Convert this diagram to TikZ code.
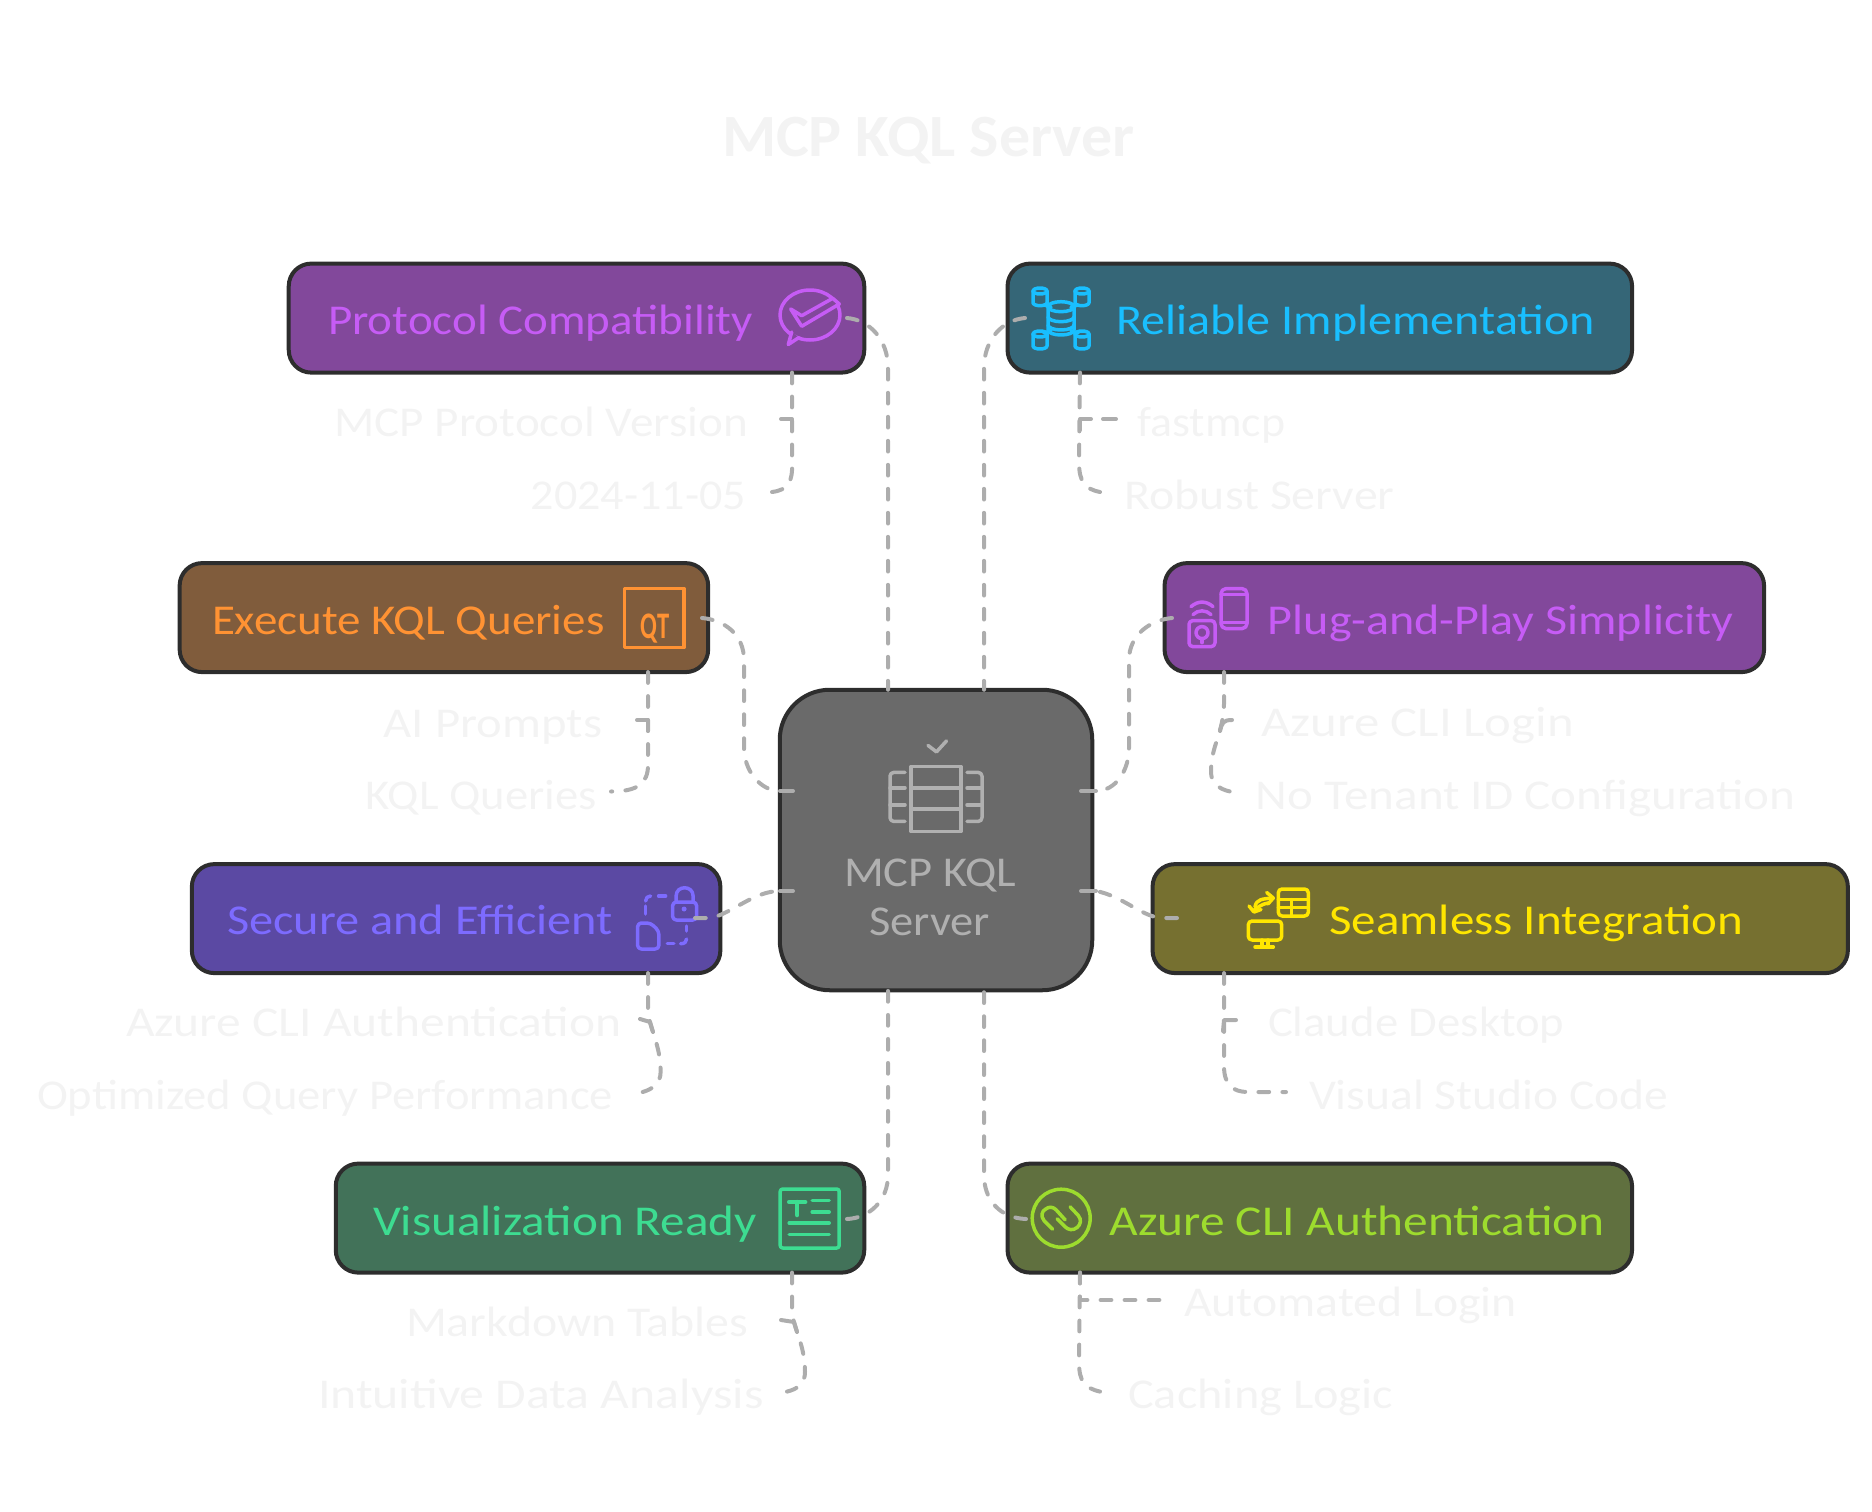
\documentclass[tikz,border=0pt]{standalone}
\usepackage{fontspec}
\setmainfont{Carlito}
\definecolor{faint}{HTML}{F3F3F3}
\definecolor{edge}{HTML}{2D2D2D}
\definecolor{wire}{HTML}{ADADAD}
\definecolor{hubgray}{HTML}{6A6A6A}
\definecolor{hubtext}{HTML}{B0B0B0}
\definecolor{purpfill}{HTML}{82489B}
\definecolor{purptext}{HTML}{C65CF5}
\definecolor{tealfill}{HTML}{356677}
\definecolor{tealtext}{HTML}{19BFFF}
\definecolor{brownfill}{HTML}{805C3C}
\definecolor{browntext}{HTML}{FF9233}
\definecolor{violfill}{HTML}{5B49A3}
\definecolor{violtext}{HTML}{7D6BFF}
\definecolor{olivefill}{HTML}{767030}
\definecolor{olivetext}{HTML}{FFE600}
\definecolor{greenfill}{HTML}{427259}
\definecolor{greentext}{HTML}{3DDC91}
\definecolor{limefill}{HTML}{60703F}
\definecolor{limetext}{HTML}{9DDC2E}
\newlength\fwl
\newcommand\fw[2]{\setlength\fwl{#1pt}\setlength\fwl{0.4\fwl}\resizebox{\fwl}{\height}{#2}}
\newcommand\cyl[5]{% cx top bot rx ry
  \draw (#1,#2) ellipse [x radius=#4,y radius=#5];
  \draw (#1-#4,#2) -- (#1-#4,#3) arc [start angle=180,end angle=0,x radius=#4,y radius=#5] -- (#1+#4,#2);
}
\tikzset{
  boxn/.style={draw=edge,line width=1.6pt,rounded corners=9pt,inner sep=0pt,outer sep=0pt,minimum height=43.6pt},
  lab/.style={anchor=base west,inner sep=0pt,outer sep=0pt,font=\fontsize{17}{20}\selectfont},
  sub/.style={lab,text=faint},
  wirebase/.style={draw=wire,line width=1.6pt,line cap=round,line join=round},
  conn/.style={wirebase,dash pattern=on 4.3pt off 5.3pt},
  stubline/.style={wirebase},
  ico/.style={line width=1.4pt,line cap=round,line join=round},
}
\begin{document}
\begin{tikzpicture}[x=0.4pt,y=-0.4pt]
\useasboundingbox (0,0) rectangle (1872,1512);

% title
\node[lab,text=faint,font=\fontsize{24}{28}\selectfont\bfseries] (title) at (722,157) {\fw{413}{MCP KQL Server}};

% boxes
\node[boxn,fill=purpfill,minimum width=230.2pt] (protocol) at (576.5,318.1) {};
\node[boxn,fill=tealfill,minimum width=249.8pt] (reliable) at (1319.8,318.1) {};
\node[boxn,fill=brownfill,minimum width=211.4pt] (execute) at (443.9,617.6) {};
\node[boxn,fill=purpfill,minimum width=239.8pt] (plug) at (1464.3,617.6) {};
\node[boxn,fill=violfill,minimum width=211.4pt] (secure) at (456.1,918.6) {};
\node[boxn,fill=olivefill,minimum width=278.1pt] (seamless) at (1500.2,918.6) {};
\node[boxn,fill=greenfill,minimum width=211.4pt] (viz) at (600,1218.1) {};
\node[boxn,fill=limefill,minimum width=249.8pt] (azure) at (1319.8,1218.1) {};
\node[boxn,fill=hubgray,minimum width=125pt,minimum height=120.2pt,rounded corners=20pt] (hub) at (936,840) {};

% box labels
\node[lab,text=purptext] (tProtocol) at (328,334) {\fw{425}{Protocol Compatibility}};
\node[lab,text=tealtext] (tReliable) at (1116.5,334) {\fw{478.5}{Reliable Implementation}};
\node[lab,text=browntext] (tExecute) at (212,634.6) {\fw{392.5}{Execute KQL Queries}};
\node[lab,text=purptext] (tPlug) at (1267.9,634.6) {\fw{465.5}{Plug-and-Play Simplicity}};
\node[lab,text=violtext] (tSecure) at (227,934.5) {\fw{386}{Secure and Efficient}};
\node[lab,text=olivetext] (tSeamless) at (1329.2,934.5) {\fw{414}{Seamless Integration}};
\node[lab,text=greentext] (tViz) at (373,1235) {\fw{384}{Visualization Ready}};
\node[lab,text=limetext] (tAzure) at (1109.6,1235) {\fw{495}{Azure CLI Authentication}};
\node[lab,text=hubtext] (tHub1) at (844,886) {\fw{172}{MCP KQL}};
\node[lab,text=hubtext] (tHub2) at (869,935) {\fw{121}{Server}};

% sub labels
\node[sub] (s1) at (334.5,436.5) {\fw{413.5}{MCP Protocol Version}};
\node[sub] (s2) at (530.6,509) {\fw{215.4}{2024-11-05}};
\node[sub] (s3) at (1137.2,436.5) {\fw{148}{fastmcp}};
\node[sub] (s4) at (1124.6,509) {\fw{270}{Robust Server}};
\node[sub] (s5) at (383.7,737) {\fw{218.3}{AI Prompts}};
\node[sub] (s6) at (365.7,809) {\fw{231}{KQL Queries}};
\node[sub] (s7) at (1261,736.5) {\fw{313}{Azure CLI Login}};
\node[sub] (s8) at (1255.9,809) {\fw{539.5}{No Tenant ID Configuration}};
\node[sub] (s9) at (126,1036.5) {\fw{495.5}{Azure CLI Authentication}};
\node[sub] (s10) at (37,1109) {\fw{576}{Optimized Query Performance}};
\node[sub] (s11) at (1268,1036.5) {\fw{296.5}{Claude Desktop}};
\node[sub] (s12) at (1309,1109) {\fw{359.6}{Visual Studio Code}};
\node[sub] (s13) at (406,1336.5) {\fw{342.5}{Markdown Tables}};
\node[sub] (s14) at (318,1408.5) {\fw{445.5}{Intuitive Data Analysis}};
\node[sub] (s15) at (1184,1316.5) {\fw{333}{Automated Login}};
\node[sub] (s16) at (1128.2,1408.5) {\fw{265}{Caching Logic}};

% icon: chat check
\begin{scope}[shift={(-3,-1)},ico,draw=purptext]
  \draw (813,316) ellipse [x radius=30,y radius=25];
  \draw[fill=purpfill] (794.7,333) -- (791.3,345.5) -- (802,338.5);
  \draw[fill=purpfill] (793.7,310) -- (804.7,316.7) -- (835.7,299.3) -- (842.3,305) -- (804.7,327.3) -- cycle;
\end{scope}

% icon: database network
\begin{scope}[shift={(-5,0)},ico,draw=tealtext]
  \cyl{1066}{306.7}{330}{13}{5}
  \draw (1053,316.7) arc [start angle=180,end angle=0,x radius=13,y radius=5];
  \draw (1053,325) arc [start angle=180,end angle=0,x radius=13,y radius=5];
  \cyl{1045}{291}{302.7}{7}{3}
  \cyl{1087}{291}{302.7}{7}{3}
  \cyl{1045}{334}{346}{7}{3}
  \cyl{1087}{334}{346}{7}{3}
  \draw (1049,305) -- (1056,307);
  \draw (1083,305) -- (1076,307);
  \draw (1049,333) -- (1056,331);
  \draw (1083,333) -- (1076,331);
\end{scope}

% icon: QT
\draw[ico,draw=browntext] (624.6,588.6) rectangle (684,647.6);
\node[inner sep=0pt,text=browntext,font=\fontsize{15}{16}\selectfont\bfseries,anchor=base] (qt) at (655,638.6) {\fw{28.5}{QT}};

% icon: phone and remote
\begin{scope}[shift={(-5,-2.4)},ico,draw=purptext]
  \draw[rounded corners=2pt] (1226,591) rectangle (1252,631);
  \draw (1226,597) -- (1252,597);
  \draw (1226,625) -- (1252,625);
  \draw[rounded corners=1.5pt] (1194,623) rectangle (1220,649);
  \draw (1207,635) circle [radius=6];
  \draw (1207,641) -- (1207,645);
  \draw (1198,617) .. controls (1203,612) and (1211,612) .. (1216,617);
  \draw (1196,609) .. controls (1203,603) and (1211,603) .. (1218,609);
\end{scope}

% icon: lock and document
\begin{scope}[shift={(-2.4,-2)},ico,draw=violtext]
  \draw[rounded corners=1.5pt] (640,925) -- (653,925) -- (661.3,933) -- (661.3,951) -- (640,951) -- cycle;
  \draw[rounded corners=1.5pt] (675,904) rectangle (699,922);
  \draw (678.5,904) -- (678.5,898) .. controls (678.5,887) and (695.5,887) .. (695.5,898) -- (695.5,904);
  \fill[violtext] (686.5,911) circle [radius=2.5];
  \draw (648,916) -- (648,908);
  \draw (648,903) .. controls (648,900) and (650,898) .. (653,898);
  \draw (661,898) -- (668,898);
  \draw (689,928) -- (689,933);
  \draw (689,941) .. controls (689,944) and (687,945.7) .. (683,945.7);
  \draw (669.7,945.7) -- (676.3,945.7);
\end{scope}

% icon: monitor, table and arrows
\begin{scope}[shift={(0,-1)},ico,draw=olivetext]
  \draw[rounded corners=1.5pt] (1278.3,890) rectangle (1308.3,917);
  \draw (1278.3,900.5) -- (1308.3,900.5);
  \draw (1278.3,908.5) -- (1308.3,908.5);
  \draw (1291.7,900.5) -- (1291.7,917);
  \draw[rounded corners=1.5pt] (1248.3,922) rectangle (1281.7,941);
  \draw (1262,941) -- (1262,948);
  \draw (1268,941) -- (1268,948);
  \draw (1255,948) -- (1273.3,948);
  \draw (1255,908) .. controls (1256,900) and (1263,900) .. (1272,899);
  \draw (1266.7,893.5) -- (1273.3,899) -- (1268,905);
  \draw (1268,904) .. controls (1262,905) and (1258,908) .. (1253,912);
  \draw (1249,907) -- (1254,913) -- (1261,910.5);
\end{scope}

% icon: text document
\begin{scope}[shift={(-4.8,-5)},ico,draw=greentext]
  \draw[rounded corners=1pt] (785,1194) rectangle (844,1253);
  \draw[line width=1.8pt] (794,1207) -- (810,1207);
  \draw[line width=1.8pt] (802,1207) -- (802,1220);
  \draw (817,1205.5) -- (834,1205.5);
  \draw (817,1217) -- (834,1217);
  \draw (794,1228) -- (834,1228);
  \draw (794,1239.5) -- (834,1239.5);
\end{scope}

% icon: linked circle
\begin{scope}[shift={(-4.8,-4.8)},ico,draw=limetext]
  \draw (1066,1223) circle [radius=29];
  \draw (1057.3,1234) -- (1049,1225.7) .. controls (1045,1220.7) and (1047,1215.7) .. (1050,1214.2) .. controls (1054,1210.7) and (1058,1211.7) .. (1061,1214.7) -- (1070,1224.7);
  \draw (1075,1211.7) -- (1083,1220.2) .. controls (1087,1224.7) and (1085,1229.7) .. (1082,1232.2) .. controls (1078,1235.7) and (1073,1234.7) .. (1070,1231.7) -- (1062,1223.7);
\end{scope}

% icon: hub server
\begin{scope}[shift={(-4,-3.6)},ico,draw=hubtext]
  \draw (915,770) rectangle (965,835);
  \draw (915,791.5) -- (965,791.5);
  \draw (915,812.5) -- (965,812.5);
  \draw (932,749) -- (940.5,755.5) -- (950.5,744.5);
  \draw[rounded corners=1.5pt] (909,776) -- (894,776) -- (894,825) -- (909,825);
  \draw (894,791.5) -- (909,791.5);
  \draw (894,808.5) -- (909,808.5);
  \draw[rounded corners=1.5pt] (971,776) -- (986,776) -- (986,825) -- (971,825);
  \draw (971,791.5) -- (986,791.5);
  \draw (971,808.5) -- (986,808.5);
\end{scope}

% connector ends
\coordinate (v1) at (888,0);
\coordinate (v2) at (984,0);
\coordinate (pStub) at (847,318);
\coordinate (rStub) at (1025,318);
\coordinate (eStub) at (702,618);
\coordinate (gStub) at (1172,618);
\coordinate (hL1) at (780,791);
\coordinate (hR1) at (1096,791);
\coordinate (hL2) at (780,891);
\coordinate (hR2) at (1096,891);
\coordinate (sStub) at (695,918);
\coordinate (mStub) at (1177,918);
\coordinate (vStub) at (847,1219);
\coordinate (aStub) at (1026,1219);

% hub connectors
\draw[conn] (pStub) .. controls (870,320) and (888,340) .. (888,368) -- (hub.north -| v1);
\draw[conn] (rStub) .. controls (1002,320) and (984,340) .. (984,368) -- (hub.north -| v2);
\draw[conn] (eStub) .. controls (725,620) and (744,635) .. (744,660) -- (744,748) .. controls (744,770) and (760,791) .. (hL1);
\draw[conn] (gStub) .. controls (1150,620) and (1129,635) .. (1129,660) -- (1129,748) .. controls (1129,770) and (1116,791) .. (hR1);
\draw[conn] (sStub) -- (712,918) .. controls (735,911) and (755,891) .. (hL2);
\draw[conn] (mStub) -- (1163,918) .. controls (1143,918) and (1123,896) .. (hR2);
\draw[conn] (vStub) .. controls (870,1218) and (888,1200) .. (888,1175) -- (hub.south -| v1);
\draw[conn] (aStub) .. controls (1000,1218) and (984,1200) .. (984,1175) -- (hub.south -| v2);
\draw[stubline] (hL1) -- (793,791);
\draw[stubline] (hR1) -- (1081,791);
\draw[stubline] (hL2) -- (793,891);
\draw[stubline] (hR2) -- (1081,891);

% sub-branch forks
\coordinate (f1) at (792,0);
\coordinate (f2) at (1080,0);
\coordinate (f3) at (648,0);
\coordinate (f4) at (1224,0);

% sub-branches: trunk, then stub
\draw[conn] (protocol.south -| f1) -- (792,462) .. controls (793,482) and (788,490) .. (772,492);
\draw[stubline] (781,419) -- (792,419) -- (792,430);
\draw[conn] (reliable.south -| f2) -- (1079,462) .. controls (1079,482) and (1085,489) .. (1100,492);
\draw[stubline] (1080,430) -- (1080,419) -- (1091,419);
\draw[stubline] (1103,419) -- (1116,419);
\draw[conn] (execute.south -| f3) -- (648,765) .. controls (648,783) and (638,791.5) .. (611,791.5);
\draw[stubline] (637,720) -- (648,720) -- (648,731);
\draw[conn] (plug.south -| f4) -- (1224,704) .. controls (1223,735) and (1211,745) .. (1211,772) .. controls (1211,782) and (1218,789) .. (1230,791.5);
\draw[stubline] (1220,731) .. controls (1222,723) and (1223,720) .. (1232,720);
\draw[conn] (secure.south -| f3) -- (648,1012) .. controls (650,1030) and (660.6,1045) .. (660.6,1072) .. controls (660.6,1083) and (653,1089) .. (642.7,1092);
\draw[stubline] (640,1019) -- (650,1022) -- (653,1032);
\draw[conn] (seamless.south -| f4) -- (1224,1066) .. controls (1224,1085) and (1233,1092) .. (1248,1092) -- (1286,1092);
\draw[stubline] (1223,1031) -- (1224,1020) -- (1236,1020);
\draw[conn] (viz.south -| f1) -- (792,1312) .. controls (794,1330) and (805,1345) .. (805,1372) .. controls (805,1383) and (798,1389) .. (787,1391.6);
\draw[stubline] (781,1320) -- (794,1322) -- (797,1332);
\draw[conn] (azure.south -| f2) -- (1080,1300) -- (1160,1300);
\draw[conn] (azure.south -| f2) -- (1079,1362) .. controls (1079,1382) and (1085,1388) .. (1100,1391.6);
\end{tikzpicture}
\end{document}
